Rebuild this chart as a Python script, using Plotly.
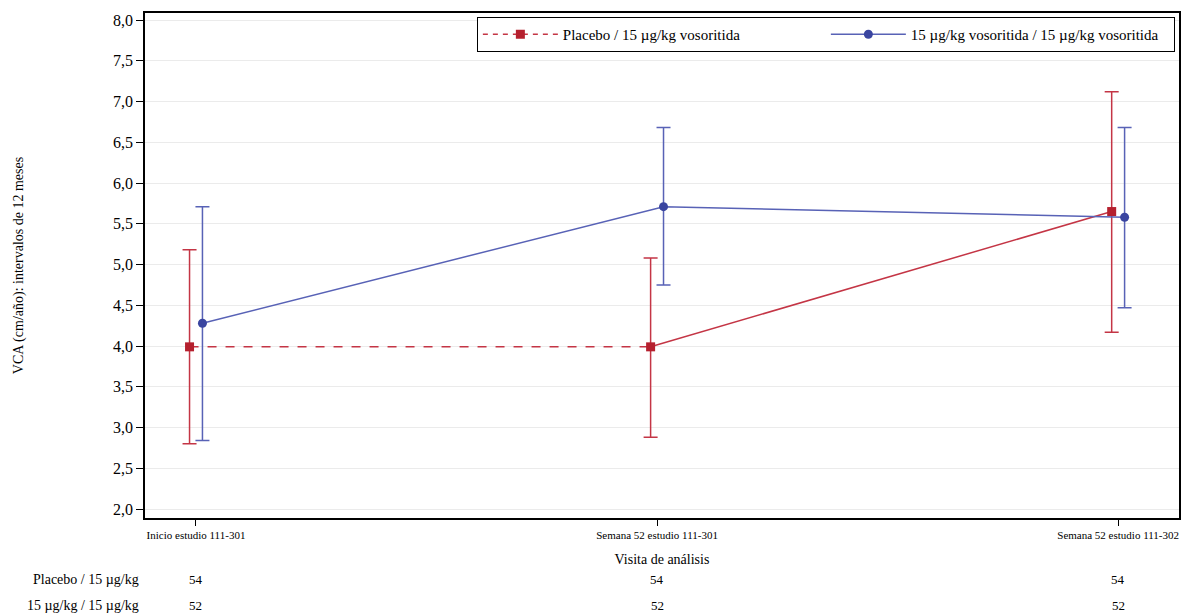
import plotly.graph_objects as go

visits = ["Inicio estudio 111-301", "Semana 52 estudio 111-301", "Semana 52 estudio 111-302"]
placebo_mean = [3.99, 3.99, 5.65]
placebo_upper = [5.18, 5.08, 7.12]
placebo_lower = [2.80, 2.88, 4.17]
voso_mean = [4.28, 5.71, 5.58]
voso_upper = [5.71, 6.68, 6.68]
voso_lower = [2.84, 4.75, 4.47]
n_placebo = [54, 54, 54]
n_voso = [52, 52, 52]
row_labels = ["Placebo / 15 µg/kg", "15 µg/kg / 15 µg/kg"]
series_names = ["Placebo / 15 µg/kg vosoritida", "15 µg/kg vosoritida / 15 µg/kg vosoritida"]

RED_M = "#B5202E"
RED_L = "#C43545"
BLUE_M = "#3A45A0"
BLUE_L = "#5862B6"
FONT = "Liberation Serif"

idx = list(range(len(visits)))
off = 0.014
xp = [i - off for i in idx]
xv = [i + off for i in idx]

fig = go.Figure()

# placebo: dashed first segment, solid second
fig.add_trace(go.Scatter(x=xp[:2], y=placebo_mean[:2], mode="lines",
                         line=dict(color=RED_L, width=1.5, dash="dash"),
                         showlegend=False, hoverinfo="skip"))
fig.add_trace(go.Scatter(x=xp[1:], y=placebo_mean[1:], mode="lines",
                         line=dict(color=RED_L, width=1.5),
                         showlegend=False, hoverinfo="skip"))
fig.add_trace(go.Scatter(
    x=xp, y=placebo_mean, mode="markers", showlegend=False,
    marker=dict(symbol="square", size=9, color=RED_M),
    error_y=dict(type="data", symmetric=False,
                 array=[u - m for u, m in zip(placebo_upper, placebo_mean)],
                 arrayminus=[m - l for m, l in zip(placebo_mean, placebo_lower)],
                 color=RED_L, thickness=1.5, width=7)))
# legend proxy for placebo
fig.add_trace(go.Scatter(x=[None], y=[None], mode="lines+markers", name=series_names[0],
                         line=dict(color=RED_L, width=1.5, dash="5px,5px"),
                         marker=dict(symbol="square", size=9, color=RED_M)))

fig.add_trace(go.Scatter(
    x=xv, y=voso_mean, mode="lines+markers", name=series_names[1],
    line=dict(color=BLUE_L, width=1.5),
    marker=dict(symbol="circle", size=9, color=BLUE_M),
    error_y=dict(type="data", symmetric=False,
                 array=[u - m for u, m in zip(voso_upper, voso_mean)],
                 arrayminus=[m - l for m, l in zip(voso_mean, voso_lower)],
                 color=BLUE_L, thickness=1.5, width=7)))

ROW_Y = [-0.121, -0.174]
annotations = []
for i in idx:
    annotations.append(dict(x=i, y=ROW_Y[0], xref="x", yref="paper", text=str(n_placebo[i]),
                            showarrow=False, font=dict(family=FONT, size=13, color="black"),
                            xanchor="center", yanchor="middle"))
    annotations.append(dict(x=i, y=ROW_Y[1], xref="x", yref="paper", text=str(n_voso[i]),
                            showarrow=False, font=dict(family=FONT, size=13, color="black"),
                            xanchor="center", yanchor="middle"))
for k, lab in enumerate(row_labels):
    annotations.append(dict(x=-0.004, y=ROW_Y[k], xref="paper", yref="paper", text=lab,
                            showarrow=False, font=dict(family=FONT, size=14, color="black"),
                            xanchor="right", yanchor="middle"))

fig.update_layout(
    width=1184, height=614,
    margin=dict(l=145, r=5, t=13, b=96),
    paper_bgcolor="white", plot_bgcolor="white",
    font=dict(family=FONT, color="black"),
    xaxis=dict(range=[-0.1106, 2.132], tickvals=idx, ticktext=visits,
               tickfont=dict(family=FONT, size=11), ticks="outside", ticklen=6,
               tickcolor="black", showline=True, linecolor="black", linewidth=1.5,
               mirror=True, showgrid=False, zeroline=False, automargin=False,
               title=dict(text="Visita de análisis", font=dict(family=FONT, size=14), standoff=14)),
    yaxis=dict(range=[1.89, 8.086], tickvals=[2, 2.5, 3, 3.5, 4, 4.5, 5, 5.5, 6, 6.5, 7, 7.5, 8],
               ticktext=["2,0", "2,5", "3,0", "3,5", "4,0", "4,5", "5,0", "5,5", "6,0", "6,5", "7,0", "7,5", "8,0"],
               tickfont=dict(family=FONT, size=16), ticks="outside", ticklen=7,
               tickcolor="black", showline=True, linecolor="black", linewidth=1.5,
               mirror=True, showgrid=True, gridcolor="#EBEBEB", gridwidth=1, zeroline=False,
               automargin=False,
               title=dict(text="VCA (cm/año): intervalos de 12 meses", font=dict(family=FONT, size=14), standoff=86)),
    legend=dict(orientation="h", x=0.996, y=0.992, xanchor="right", yanchor="top",
                bgcolor="white", bordercolor="black", borderwidth=1,
                itemwidth=75, entrywidth=258, entrywidthmode="pixels",
                font=dict(family=FONT, size=15), traceorder="normal"),
    annotations=annotations,
)

fig.write_html("out.html", config={"displayModeBar": False},
               post_script="document.body.style.margin='0';document.body.style.padding='0';document.documentElement.style.overflow='hidden';")
